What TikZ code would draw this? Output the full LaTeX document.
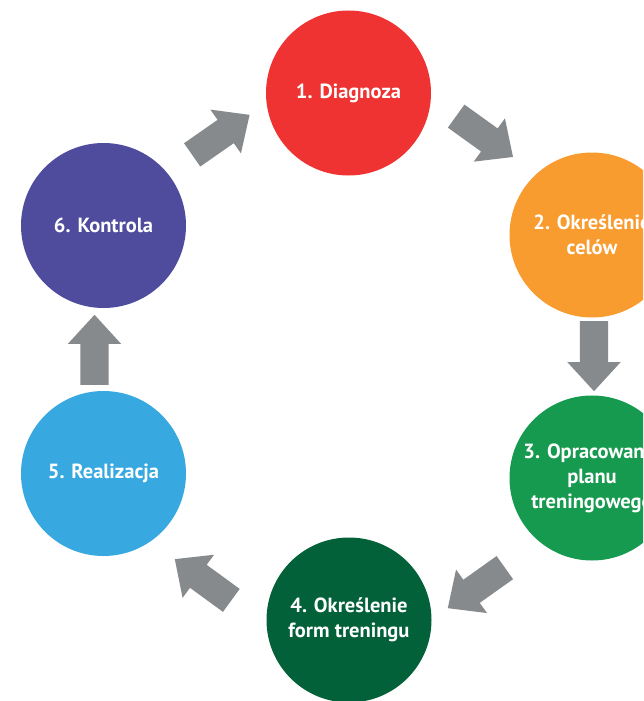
\documentclass[tikz,border=0pt]{standalone}
\usepackage{fontspec}
\setmainfont{PT Sans}
\usepackage{xcolor}
\usepackage{tikz}
\usetikzlibrary{shapes.arrows}
\definecolor{stepred}{HTML}{EE3332}
\definecolor{steporange}{HTML}{F89C2F}
\definecolor{stepgreen}{HTML}{169A4F}
\definecolor{stepdark}{HTML}{03613A}
\definecolor{stepblue}{HTML}{38A9E0}
\definecolor{stepviolet}{HTML}{4F4C9E}
\definecolor{arrowgray}{HTML}{878A8C}
\tikzset{
  stage/.style     = {circle, minimum size=165pt, inner sep=0pt, align=center,
                      text=white, font=\fontsize{20.5}{25}\selectfont\bfseries},
  cyclearrow/.style = {single arrow, fill=arrowgray, draw=none, anchor=tail,
                      inner xsep=0pt, inner ysep=14pt, minimum height=70pt,
                      single arrow head extend=12.5pt, single arrow tip angle=85},
}

\begin{document}
\begin{tikzpicture}[x=1pt, y=-1pt]
  \clip (0,0) rectangle (643,701);
  \fill[white] (0,0) rectangle (643,701);

  \node[stage, fill=stepred]    (diag) at (348.5,93)   {1. Diagnoza};
  \node[stage, fill=steporange] (cele) at (592,235)    {2. Określenie\\celów};
  \node[stage, fill=stepgreen]  (plan) at (592,478)    {3. Opracowanie\\planu\\treningowego};
  \node[stage, fill=stepdark]   (form) at (349,620)    {4. Określenie\\form treningu};
  \node[stage, fill=stepblue]   (real) at (103.5,473.5) {5. Realizacja};
  \node[stage, fill=stepviolet] (kont) at (103.5,225.5) {6. Kontrola};

  \node[cyclearrow, rotate=-35.7]  (a12) at (456,116)     {};
  \node[cyclearrow, rotate=-90]    (a23) at (594,321)     {};
  \node[cyclearrow, rotate=-144.6] (a34) at (505,567.5)   {};
  \node[cyclearrow, rotate=143.9]  (a45) at (231.5,600.5) {};
  \node[cyclearrow, rotate=90]     (a56) at (94.5,385)    {};
  \node[cyclearrow, rotate=34.9]   (a61) at (192,155)     {};
\end{tikzpicture}
\end{document}
